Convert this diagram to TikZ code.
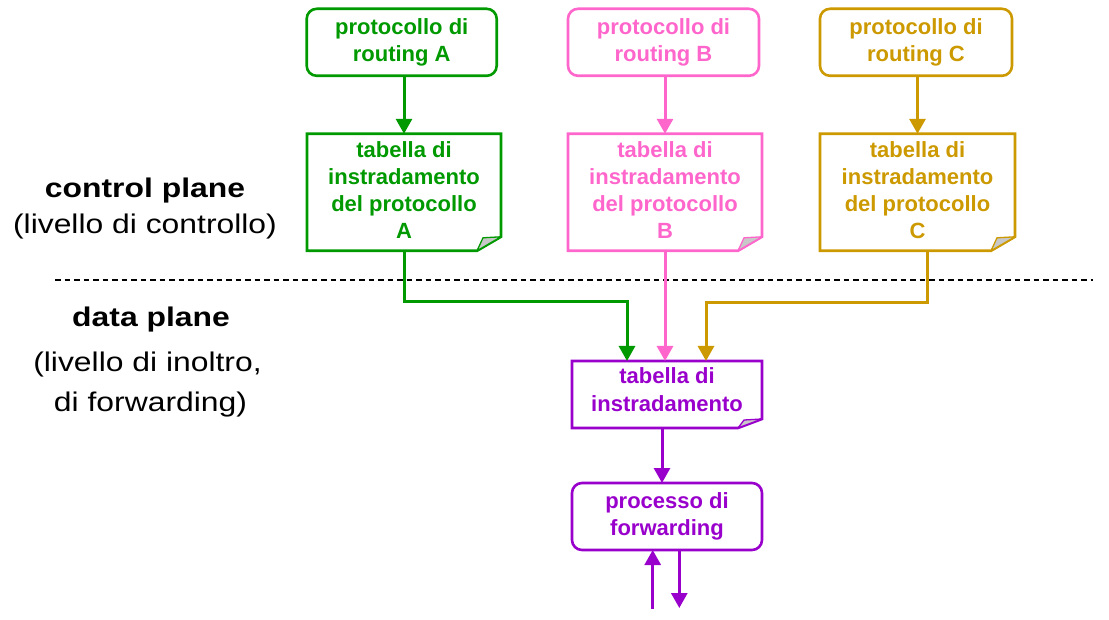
\documentclass[tikz,border=0pt]{standalone}
\usepackage{fontspec}
\setmainfont{Liberation Sans}
\newfontfamily\lblfont[FakeStretch=1.18]{Liberation Sans}
\usetikzlibrary{arrows.meta,calc}
\definecolor{cgreen}{RGB}{0,153,0}
\definecolor{cpink}{RGB}{255,102,204}
\definecolor{cgold}{RGB}{204,153,0}
\definecolor{cpurple}{RGB}{153,0,204}
\definecolor{foldgray}{RGB}{200,200,200}
\tikzset{
  box/.style={draw=#1, text=#1, line width=2.6pt, rounded corners=10pt,
    minimum width=190pt, minimum height=67pt, inner sep=0pt, outer sep=0pt,
    align=center, font=\bfseries\fontsize{22}{26.4}\selectfont},
  noteshape/.style={minimum width=194pt, minimum height=117pt, inner sep=0pt, outer sep=0pt},
  notetext/.style={text=#1, inner sep=0pt, align=center, font=\bfseries\fontsize{22}{27}\selectfont},
  conn/.style={draw=#1, line width=3pt, -{Triangle[length=15pt,width=16pt]}},
  lbl/.style={anchor=base, inner sep=0pt, font=\lblfont\fontsize{27}{32}\selectfont},
  sep/.style={draw=black, line width=1.2pt, dash pattern=on 5.5pt off 4pt},
}
\newcommand\noteoutline[3]{%
  \draw[#2, line width=2.6pt, line join=miter]
    (#1.south west) -- (#1.north west) -- (#1.north east)
    -- ([yshift=#3pt]#1.south east) -- ([xshift=-24pt]#1.south east) -- cycle;
  \filldraw[draw=#2, fill=foldgray, line width=1.3pt, line join=round]
    ([xshift=-24pt]#1.south east) -- ([xshift=-18pt,yshift=#3pt-1pt]#1.south east)
    -- ([yshift=#3pt]#1.south east) -- cycle;
}
\begin{document}
\begin{tikzpicture}[x=1pt,y=-1pt]
\useasboundingbox (0,0) rectangle (1109,620);

% left labels
\node[lbl, font=\lblfont\bfseries\fontsize{27}{32}\selectfont] (cp) at (145,197.7) {control plane};
\node[lbl] (cpl) at (145,233.3) {(livello di controllo)};
\node[lbl, font=\lblfont\bfseries\fontsize{27}{32}\selectfont] (dp) at (151,327) {data plane};
\node[lbl] (dpl1) at (147.5,372) {(livello di inoltro,};
\node[lbl] (dpl2) at (150.5,411) {di forwarding)};

% separator
\coordinate (sepL) at (55,280);
\coordinate (sepR) at (1093,280);
\draw[sep] (sepL) -- (sepR);

% routing protocols
\node[box=cgreen] (topA) at (401.7,42.3) {protocollo di\\routing A};
\node[box=cpink, minimum width=191pt] (topB) at (663.5,42.3) {protocollo di\\routing B};
\node[box=cgold, minimum width=192pt] (topC) at (916,42.3) {protocollo di\\routing C};

% per-protocol tables
\node[noteshape] (noteA) at (404,192.3) {};
\node[noteshape] (noteB) at (665,192.3) {};
\node[noteshape, minimum width=195pt] (noteC) at (917.5,192.3) {};
\node[notetext=cgreen, yshift=2.5pt] (noteAt) at (noteA) {tabella di\\instradamento\\del protocollo\\A};
\node[notetext=cpink, yshift=2.5pt] (noteBt) at (noteB) {tabella di\\instradamento\\del protocollo\\B};
\node[notetext=cgold, yshift=2.5pt] (noteCt) at (noteC) {tabella di\\instradamento\\del protocollo\\C};
\noteoutline{noteA}{cgreen}{14}
\noteoutline{noteB}{cpink}{14}
\noteoutline{noteC}{cgold}{14}

% forwarding table
\node[noteshape, minimum width=190pt, minimum height=67pt] (tab) at (667,394.5) {};
\node[notetext=cpurple, yshift=5pt, font=\bfseries\fontsize{22}{28.5}\selectfont] (tabt) at (tab) {tabella di\\instradamento};
\noteoutline{tab}{cpurple}{9}

% forwarding process
\node[box=cpurple] (proc) at (667,516.5) {processo di\\forwarding};

% connectors
\draw[conn=cgreen] (noteA.north |- topA.south) -- (noteA.north);
\draw[conn=cpink] (noteB.north |- topB.south) -- (noteB.north);
\draw[conn=cgold] (noteC.north |- topC.south) -- (noteC.north);

\draw[conn=cgreen] (noteA.south) -- ++(0,50.5) -| ([xshift=-40pt]tab.north);
\draw[conn=cpink] ([xshift=-2pt]tab.north |- noteB.south) -- ([xshift=-2pt]tab.north);
\draw[conn=cgold] ([xshift=10pt]noteC.south) -- ++(0,52) -| ([xshift=39pt]tab.north);

\draw[conn=cpurple] ([xshift=-5pt]tab.south) -- ([xshift=-5pt]proc.north);

\coordinate (inA) at (652.7,609);
\coordinate (outB) at (679.3,608);
\draw[conn=cpurple] (inA) -- (inA |- proc.south);
\draw[conn=cpurple] (outB |- proc.south) -- (outB);
\end{tikzpicture}
\end{document}
